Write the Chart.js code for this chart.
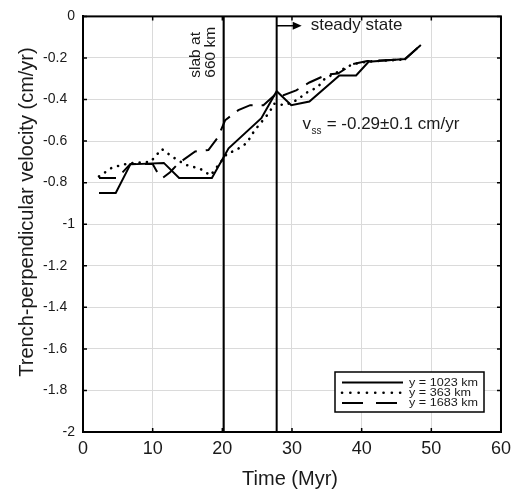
<!DOCTYPE html>
<html>
<head>
<meta charset="utf-8">
<script src="https://cdn.jsdelivr.net/npm/chart.js@4/dist/chart.umd.min.js"></script>
<style>
  html, body { margin: 0; padding: 0; background: #fff; }
  #wrap { width: 517px; height: 495px; }
</style>
</head>
<body>
<div id="wrap"><canvas id="velChart" width="517" height="495"></canvas></div>
<script>
// --- data ---
const t1023 = [2.3, 4.7, 6.8, 11.6, 13.8, 18.5, 20.9, 25.6, 27.8, 29.9, 32.5, 36.8, 39.2, 41.0, 46.2, 48.5];
const v1023 = [-0.85, -0.85, -0.712, -0.705, -0.778, -0.778, -0.635, -0.49, -0.36, -0.427, -0.41, -0.284, -0.284, -0.218, -0.205, -0.138];

const t363 = [2.3, 4.2, 6.6, 9.7, 11.3, 12.8, 14.7, 16.8, 18.3, 20.7, 21.9, 23.5, 24.6, 26.8, 27.4, 29.0, 30.9, 31.8, 33.7, 34.7, 38.7, 41.0, 46.2];
const v363 = [-0.77, -0.727, -0.707, -0.70, -0.638, -0.675, -0.714, -0.733, -0.765, -0.66, -0.645, -0.61, -0.55, -0.46, -0.42, -0.427, -0.40, -0.372, -0.34, -0.30, -0.23, -0.217, -0.207];

const t1683 = [2.3, 4.9, 6.8, 10.0, 10.6, 11.4, 12.5, 13.7, 16.1, 18.0, 19.4, 20.4, 22.3, 24.0, 25.9, 27.8, 28.7, 30.6, 32.5, 35.0, 36.6, 38.7, 40.8, 46.2, 48.5];
const v1683 = [-0.778, -0.778, -0.71, -0.71, -0.746, -0.778, -0.75, -0.707, -0.65, -0.643, -0.58, -0.50, -0.451, -0.427, -0.427, -0.37, -0.38, -0.356, -0.318, -0.28, -0.275, -0.23, -0.215, -0.207, -0.138];

const slabTime = 20.2;      // slab at 660 km
const steadyTime = 27.8;    // start of steady state
const yLimits = [-2, 0];
const xLimits = [0, 60];

const seriesNames = ['y = 1023 km', 'y = 363 km', 'y = 1683 km'];

const FONT = "'Liberation Sans', Arial, Helvetica, sans-serif";
const INK = '#1a1a1a';

function pts(ts, vs) {
    return ts.map((t, i) => ({ x: t, y: vs[i] }));
}

const dashStyles = [[], [0.1, 7.2], [17, 9]];
const legendDash = [[], [0.1, 8.2], [21, 13]];

const datasets = [
    { label: seriesNames[0], data: pts(t1023, v1023), borderColor: '#000', borderWidth: 2, borderDash: dashStyles[0], inLegend: true },
    { label: seriesNames[1], data: pts(t363, v363), borderColor: '#000', borderWidth: 2.6, borderDash: dashStyles[1], borderCapStyle: 'round', inLegend: true },
    { label: seriesNames[2], data: pts(t1683, v1683), borderColor: '#000', borderWidth: 2, borderDash: dashStyles[2], inLegend: true },
    { label: 'slab', data: pts([slabTime, slabTime], yLimits), borderColor: '#000', borderWidth: 2 },
    { label: 'steady', data: pts([steadyTime, steadyTime], yLimits), borderColor: '#000', borderWidth: 2 }
];
datasets.forEach(d => { d.pointRadius = 0; d.tension = 0; d.fill = false; });

// frame, inward ticks, annotations, legend, axis titles
const decorPlugin = {
    id: 'decor',
    afterDraw(chart) {
        const ctx = chart.ctx;
        const a = chart.chartArea;
        const xs = chart.scales.x, ys = chart.scales.y;
        ctx.save();

        // ticks pointing inward on all four sides
        ctx.strokeStyle = '#000';
        ctx.lineWidth = 1.5;
        ctx.beginPath();
        xs.ticks.forEach(tk => {
            const px = xs.getPixelForValue(tk.value);
            ctx.moveTo(px, a.bottom); ctx.lineTo(px, a.bottom - 4);
            ctx.moveTo(px, a.top); ctx.lineTo(px, a.top + 4);
        });
        ys.ticks.forEach(tk => {
            const py = ys.getPixelForValue(tk.value);
            ctx.moveTo(a.left, py); ctx.lineTo(a.left + 4, py);
            ctx.moveTo(a.right, py); ctx.lineTo(a.right - 4, py);
        });
        ctx.stroke();

        // box
        ctx.lineWidth = 2;
        ctx.strokeRect(a.left, a.top, a.right - a.left, a.bottom - a.top);

        // steady state arrow
        const sx = xs.getPixelForValue(steadyTime);
        const ay = ys.getPixelForValue(-0.045);
        ctx.lineWidth = 1.5;
        ctx.beginPath();
        ctx.moveTo(sx, ay); ctx.lineTo(sx + 18, ay);
        ctx.stroke();
        ctx.fillStyle = '#000';
        ctx.beginPath();
        ctx.moveTo(sx + 25, ay); ctx.lineTo(sx + 16, ay - 4); ctx.lineTo(sx + 16, ay + 4);
        ctx.closePath(); ctx.fill();

        ctx.fillStyle = INK;
        ctx.font = '17px ' + FONT;
        ctx.textAlign = 'left';
        ctx.textBaseline = 'middle';
        ctx.fillText('steady state', sx + 34, ay);

        // v_ss label
        const vx = xs.getPixelForValue(31.5), vy = ys.getPixelForValue(-0.52);
        ctx.fillText('v', vx, vy);
        const vw = ctx.measureText('v').width;
        ctx.font = '10px ' + FONT;
        ctx.fillText('ss', vx + vw + 0.5, vy + 7);
        const sw = ctx.measureText('ss').width;
        ctx.font = '17px ' + FONT;
        ctx.fillText(' = -0.29\u00b10.1 cm/yr', vx + vw + sw + 1, vy);

        // slab at 660 km (rotated)
        const lx = xs.getPixelForValue(slabTime);
        ctx.font = '15.5px ' + FONT;
        ctx.save();
        ctx.translate(lx - 20, ys.getPixelForValue(-0.295));
        ctx.rotate(-Math.PI / 2);
        ctx.textAlign = 'left';
        ctx.fillText('slab at', 0, -8);
        ctx.fillText('660 km', 0, 7);
        ctx.restore();

        // legend
        const bx = 335, by = 372, bw = 149, bh = 40;
        ctx.fillStyle = '#fff';
        ctx.fillRect(bx, by, bw, bh);
        ctx.strokeStyle = '#000';
        ctx.lineWidth = 1.5;
        ctx.strokeRect(bx, by, bw, bh);
        chart.data.datasets.filter(d => d.inLegend).forEach((d, i) => {
            const ly = by + 10.5 + i * 10.3;
            ctx.save();
            ctx.lineWidth = d.borderWidth;
            ctx.lineCap = d.borderCapStyle || 'butt';
            ctx.setLineDash(legendDash[i]);
            ctx.beginPath();
            ctx.moveTo(bx + 7, ly); ctx.lineTo(bx + 68, ly);
            ctx.stroke();
            ctx.restore();
            // legend text is squat in the original: shrink it vertically
            ctx.save();
            ctx.translate(bx + 74, ly + 0.5);
            ctx.scale(0.97, 0.78);
            ctx.fillStyle = INK;
            ctx.font = '13px ' + FONT;
            ctx.textAlign = 'left';
            ctx.textBaseline = 'middle';
            ctx.fillText(d.label, 0, 0);
            ctx.restore();
        });

        // axis titles
        ctx.fillStyle = INK;
        ctx.font = '20px ' + FONT;
        ctx.textAlign = 'center';
        ctx.textBaseline = 'middle';
        ctx.fillText('Time (Myr)', 290, 479);
        ctx.save();
        ctx.translate(27, 212);
        ctx.rotate(-Math.PI / 2);
        ctx.fillText('Trench-perpendicular velocity (cm/yr)', 0, 0);
        ctx.restore();

        ctx.restore();
    }
};

new Chart(document.getElementById('velChart'), {
    type: 'line',
    data: { datasets: datasets },
    options: {
        responsive: false,
        animation: false,
        layout: { padding: { left: 0, right: 13, top: 14, bottom: 0 } },
        plugins: { legend: { display: false }, tooltip: { enabled: false } },
        scales: {
            x: {
                type: 'linear', min: xLimits[0], max: xLimits[1],
                ticks: { stepSize: 10, padding: 6, color: INK, font: { family: FONT, size: 18 }, maxRotation: 0 },
                grid: { color: '#dadada', lineWidth: 1, drawTicks: false },
                border: { color: '#000', width: 2 },
                afterFit: s => { s.height = 63; }
            },
            y: {
                type: 'linear', min: yLimits[0], max: yLimits[1],
                ticks: {
                    stepSize: 0.2, padding: 8, color: INK, font: { family: FONT, size: 14 },
                    callback: v => {
                        const r = Math.round(v * 10) / 10;
                        return Number.isInteger(r) ? String(r) : r.toFixed(1) + '  ';
                    }
                },
                grid: { color: '#dadada', lineWidth: 1, drawTicks: false },
                border: { color: '#000', width: 2 },
                afterFit: s => { s.width = 83; }
            }
        }
    },
    plugins: [decorPlugin]
});
</script>
</body>
</html>
